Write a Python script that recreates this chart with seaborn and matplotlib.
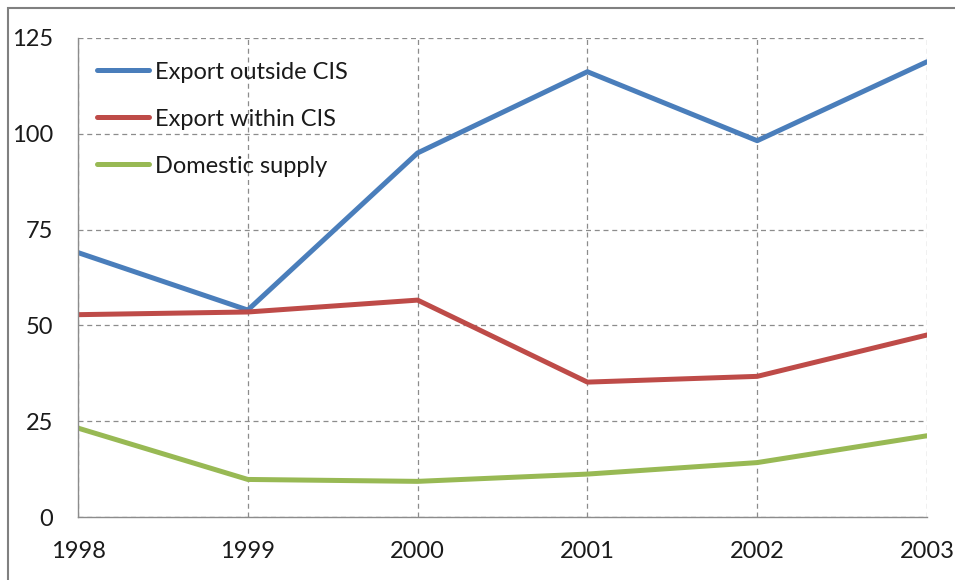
import matplotlib
matplotlib.use("Agg")
import matplotlib.pyplot as plt
import seaborn as sns
import pandas as pd
from matplotlib.patches import Rectangle

years = [1998, 1999, 2000, 2001, 2002, 2003]
export_outside = [69, 54, 95, 116.2, 98.2, 118.8]
export_within = [52.8, 53.5, 56.6, 35.2, 36.7, 47.5]
domestic = [23.2, 9.8, 9.3, 11.2, 14.2, 21.2]
series_names = ["Export outside CIS", "Export within CIS", "Domestic supply"]
colors = ["#4A7EBB", "#BE4B48", "#98B954"]
yticks = [0, 25, 50, 75, 100, 125]

df = pd.DataFrame({
    "year": years * 3,
    "value": export_outside + export_within + domestic,
    "series": [series_names[0]] * 6 + [series_names[1]] * 6 + [series_names[2]] * 6,
})

sns.set_style("white")
plt.rcParams["font.family"] = ["Lato", "DejaVu Sans"]

fig = plt.figure(figsize=(9.55, 5.8), dpi=100)
ax = fig.add_axes([78 / 955, 1 - 517 / 580, (927 - 78) / 955, (517 - 38) / 580])

sns.lineplot(data=df, x="year", y="value", hue="series", palette=colors,
             linewidth=3.6, ax=ax, legend=True)

ax.set_xlim(1998, 2003)
ax.set_ylim(0, 125)
ax.set_xticks(years)
ax.set_xticklabels([str(y) for y in years])
ax.set_yticks(yticks)
ax.set_xlabel("")
ax.set_ylabel("")
ax.grid(True, linestyle=(0, (4, 3)), color="#8c8c8c", linewidth=0.9)
for s in ["top", "right"]:
    ax.spines[s].set_visible(False)
for s in ["left", "bottom"]:
    ax.spines[s].set_color("#8c8c8c")
    ax.spines[s].set_linewidth(1.0)
ax.tick_params(axis="both", which="both", length=7, width=1.0, color="#8c8c8c",
               labelsize=17, labelcolor="#1a1a1a")
ax.tick_params(axis="x", direction="out", pad=10)
ax.tick_params(axis="y", direction="out", pad=11)

leg = ax.legend(loc="upper left", bbox_to_anchor=(0.003, 0.985), frameon=False,
                fontsize=17, handlelength=2.2, handletextpad=0.25,
                labelspacing=1.1, borderaxespad=0.3)
for t in leg.get_texts():
    t.set_color("#1a1a1a")

# outer chart frame
fig.patches.append(Rectangle((8 / 955, -0.01), 1.2, 1 - 8 / 580 + 0.01,
                             transform=fig.transFigure, fill=False,
                             edgecolor="#808080", linewidth=1.5))

fig.savefig("out.png", dpi=100)
